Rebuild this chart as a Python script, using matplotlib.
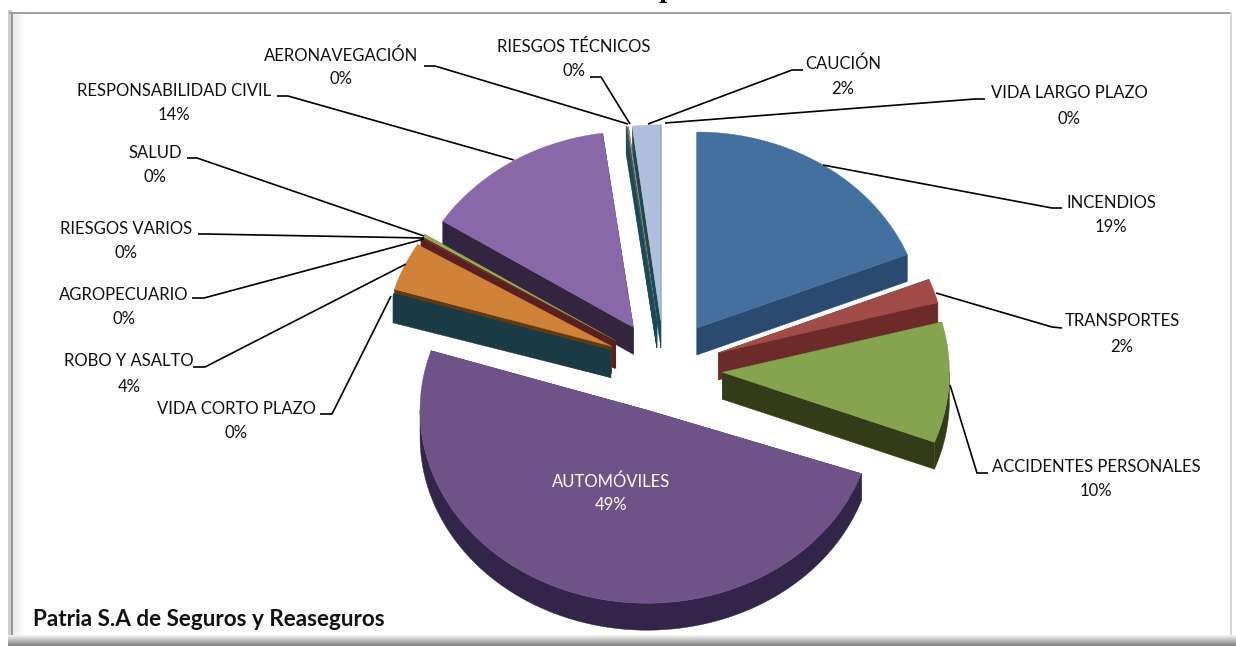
import numpy as np
import matplotlib
matplotlib.use("Agg")
import matplotlib.pyplot as plt
from matplotlib.patches import Polygon, Rectangle

# ---- data ----
categories = ["INCENDIOS", "TRANSPORTES", "ACCIDENTES PERSONALES", "AUTOMÓVILES",
              "VIDA CORTO PLAZO", "ROBO Y ASALTO", "AGROPECUARIO", "RIESGOS VARIOS",
              "SALUD", "RESPONSABILIDAD CIVIL", "AERONAVEGACIÓN", "RIESGOS TÉCNICOS",
              "CAUCIÓN", "VIDA LARGO PLAZO"]
shares = [19.0, 2.0, 10.0, 49.0, 0.2, 4.0, 0.05, 0.15, 0.25, 13.8, 0.05, 0.1, 2.0, 0.02]
top_colors = ["#44709f", "#a24c49", "#86a34f", "#6f5388", "#1a3b45", "#d08238", "#5a1f1f",
              "#772c2a", "#8db154", "#8868a8", "#276a7c", "#d08238", "#b0c0dc", "#b0c0dc"]
side_colors = ["#2b4a70", "#6c2b29", "#333c17", "#33254a", "#1a3b45", "#623a12", "#5a1f1f",
               "#5a1f1f", "#5a1f1f", "#33253f", "#1a4a58", "#1a4a58", "#1a4a58", "#b0c0dc"]
title_fragment = "p"
company = "Patria S.A de Seguros y Reaseguros"

# ---- layout ----
W, H = 1236, 646
CX, CY = 664.5, 364.0
RX, RY = 227.0, 196.0
EX, EY = 58.0, 43.4
DEPTH = 27.0
nudges = {1: (-1, 2.5), 2: (0, 6), 3: (1, 5), 4: (2, -1), 13: (-3, 0)}
# the near wedge looks a little wider and flatter in the perspective of the original
spread = {3: np.radians(1.7)}
ry_scale = {3: 0.985}
label_xy = [(1111, 201), (1122, 320), (1096, 466), (611, 480), (236, 407), (129, 360),
            (124, 293), (126, 227), (155, 151), (174, 89), (341, 54), (574, 45),
            (843, 62), (1069, 92)]
pct_dy = [25, 25, 24, 24, 24, 25, 25, 24, 25, 25, 24, 25, 26, 25]
leaders = [[(1062, 208), (1052, 208), (823, 165)],
           [(1062, 328), (1052, 327), (936, 293)],
           [(988, 473), (977, 473), (950, 385)],
           None,
           [(320, 414), (332, 414), (391, 296)],
           [(193, 367), (205, 367), (406, 264)],
           [(192, 298), (204, 298), (424, 239)],
           [(198, 234), (206, 234), (424, 238)],
           [(187, 158), (197, 158), (424, 236)],
           [(277, 96), (288, 96), (514, 160)],
           [(424, 66), (435, 66), (628, 124)],
           [(590, 77), (601, 77), (630, 124)],
           [(803, 70), (792, 70), (648, 124)],
           [(985, 99), (975, 99), (665, 123)]]

plt.rcParams["font.family"] = ["Lato", "DejaVu Sans"]
fig = plt.figure(figsize=(W / 100, H / 100), dpi=100, facecolor="white")
ax = fig.add_axes([0, 0, 1, 1])
ax.set_xlim(0, W)
ax.set_ylim(H, 0)
ax.axis("off")

# ---- frame with bevel ----
for i in range(12):
    a = 0.16 * (1 - i / 12)
    ax.add_patch(Rectangle((13 + i, 14), 1, 622, fc="#808080", ec="none", alpha=a, zorder=1))
ax.add_patch(Rectangle((8, 10), 4, 630, fc="#cfcfcf", ec="none", zorder=2))
ax.add_patch(Rectangle((11, 12), 2, 626, fc="#9a9a9a", ec="none", zorder=2))
ax.add_patch(Rectangle((9, 11.5), 1223, 2, fc="#a0a0a0", ec="none", zorder=2))
ax.add_patch(Rectangle((1230, 12), 2, 626, fc="#d8d8d8", ec="none", zorder=2))
for i in range(11):
    g = 0.95 - 0.45 * i / 10
    ax.add_patch(Rectangle((8, 635 + i), W - 8, 1, fc=str(g), ec="none", zorder=2))

# ---- exploded 3-D pie ----
total = sum(shares)
edges = np.cumsum([0.0] + shares) / total * 2 * np.pi


def rim(a0, a1, ox, oy, ry):
    t = np.linspace(a0, a1, max(2, int((a1 - a0) * 120)))
    return ox + RX * np.sin(t), oy - ry * np.cos(t)


order = sorted(range(len(shares)), key=lambda i: -np.cos((edges[i] + edges[i + 1]) / 2))
for z, i in enumerate(order):
    a0, a1 = edges[i], edges[i + 1]
    mid = (a0 + a1) / 2
    a0, a1 = a0 - spread.get(i, 0), a1 + spread.get(i, 0)
    ry = RY * ry_scale.get(i, 1)
    nx, ny = nudges.get(i, (0, 0))
    ox, oy = CX + EX * np.sin(mid) + nx, CY - EY * np.cos(mid) + ny
    zo = 3 + z * 0.01
    xs, ys = rim(a0, a1, ox, oy, ry)
    # radial walls
    for k in (0, -1):
        wall = [(ox, oy), (xs[k], ys[k]), (xs[k], ys[k] + DEPTH), (ox, oy + DEPTH)]
        ax.add_patch(Polygon(wall, closed=True, fc=side_colors[i], ec=side_colors[i],
                             lw=0.3, zorder=zo))
    # front rim
    f0, f1 = max(a0, np.pi / 2), min(a1, 3 * np.pi / 2)
    if f1 > f0:
        fx, fy = rim(f0, f1, ox, oy, ry)
        pts = np.r_[np.c_[fx, fy], np.c_[fx[::-1], fy[::-1] + DEPTH]]
        ax.add_patch(Polygon(pts, closed=True, fc=side_colors[i], ec=side_colors[i],
                             lw=0.3, zorder=zo))
    # top face
    pts = np.r_[[[ox, oy]], np.c_[xs, ys]]
    ax.add_patch(Polygon(pts, closed=True, fc=top_colors[i], ec=top_colors[i],
                         lw=0.3, zorder=zo + 0.005))

# ---- labels and leader lines ----
for i, name in enumerate(categories):
    x, y = label_xy[i]
    color = "white" if leaders[i] is None else "#111111"
    pct = f"{round(shares[i] / total * 100)}%"
    ax.text(x, y + 1.5, name, ha="center", va="center", fontsize=12, color=color, zorder=6)
    ax.text(x, y + 1.5 + pct_dy[i], pct, ha="center", va="center", fontsize=12, color=color, zorder=6)
    if leaders[i] is not None:
        lx, ly = zip(*leaders[i])
        ax.plot(lx, ly, color="black", lw=1.2, zorder=5, solid_capstyle="butt")

ax.text(33, 619.5, company, ha="left", va="center", fontsize=16.2, fontweight="bold",
        color="#111111", zorder=6)
ax.text(667, -3, title_fragment, ha="center", va="baseline", fontsize=21, fontweight="bold",
        family="Liberation Serif", color="black", zorder=6, clip_on=True)

fig.savefig("out.png", dpi=100, facecolor="white")
